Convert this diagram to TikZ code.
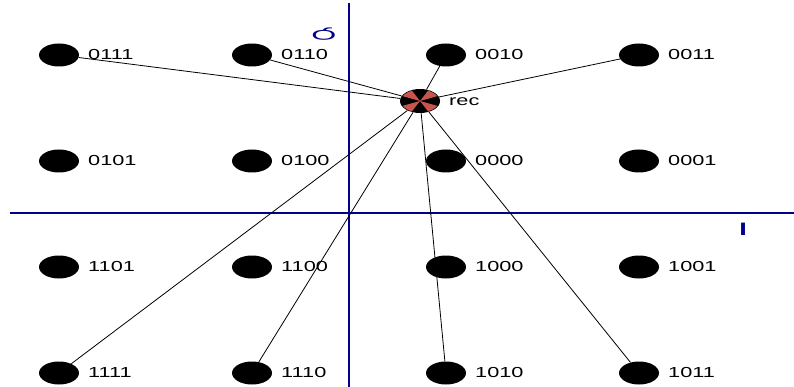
\documentclass[tikz,border=0pt]{standalone}
\usepackage{fontspec}
\setmainfont{Liberation Sans}
\usetikzlibrary{shapes.geometric}
\definecolor{axisblue}{RGB}{0,0,139}
\definecolor{piered}{RGB}{200,85,75}
\newcommand\stretchlbl[1]{\scalebox{1.5}[1]{#1}}
\tikzset{
  pt/.style={ellipse, fill=black, minimum width=40pt, minimum height=23pt, inner sep=0pt},
  lab/.style={anchor=west, inner sep=0pt, font=\fontsize{14.5}{14.5}\selectfont},
  edge/.style={line width=0.8pt},
  axisline/.style={draw=axisblue, line width=2pt},
  axislab/.style={inner sep=0pt, text=axisblue},
}
\begin{document}
\begin{tikzpicture}[x=1pt,y=-1pt]
\useasboundingbox (0,0) rectangle (794,387);
% axes
\coordinate (hl) at (10,213);
\coordinate (hr) at (794,213);
\coordinate (vt) at (349,3);
\coordinate (vb) at (349,387);
\draw[axisline] (hl) -- (hr);
\draw[axisline] (vt) -- (vb);
\node[axislab, font=\fontsize{14}{14}\selectfont] (qlab) at (324,34) {\scalebox{2.3}[-1]{Q}};
\node[axislab, font=\bfseries\fontsize{18}{18}\selectfont] (ilab) at (743,229.5) {\stretchlbl{I}};
% constellation points
\foreach \code/\x/\y in {0111/59/55, 0110/252/55, 0010/446/55, 0011/639/55,
                         0101/59/161, 0100/252/161, 0000/446/161, 0001/639/161,
                         1101/59/267, 1100/252/267, 1000/446/267, 1001/639/267,
                         1111/59/373, 1110/252/373, 1010/446/373, 1011/639/373} {
  \node[pt] (n\code) at (\x,\y) {};
  \node[lab] (l\code) at (\x+29,\y) {\stretchlbl{\code}};
}
% received point
\node[pt, minimum height=24pt] (rec) at (420,101) {};
\begin{scope}[shift={(rec.center)}, yscale=0.6]
  \foreach \a in {45,135,225,315} {
    \fill[piered] (0,0) -- (\a-20:19) arc[start angle=\a-20, end angle=\a+20, radius=19] -- cycle;
  }
\end{scope}
\node[lab] (reclab) at (449,102) {\stretchlbl{rec}};
% connectors
\foreach \code in {0111,0110,0010,0011,1111,1110,1010,1011} {
  \draw[edge] (rec) -- (n\code);
}
\end{tikzpicture}
\end{document}
